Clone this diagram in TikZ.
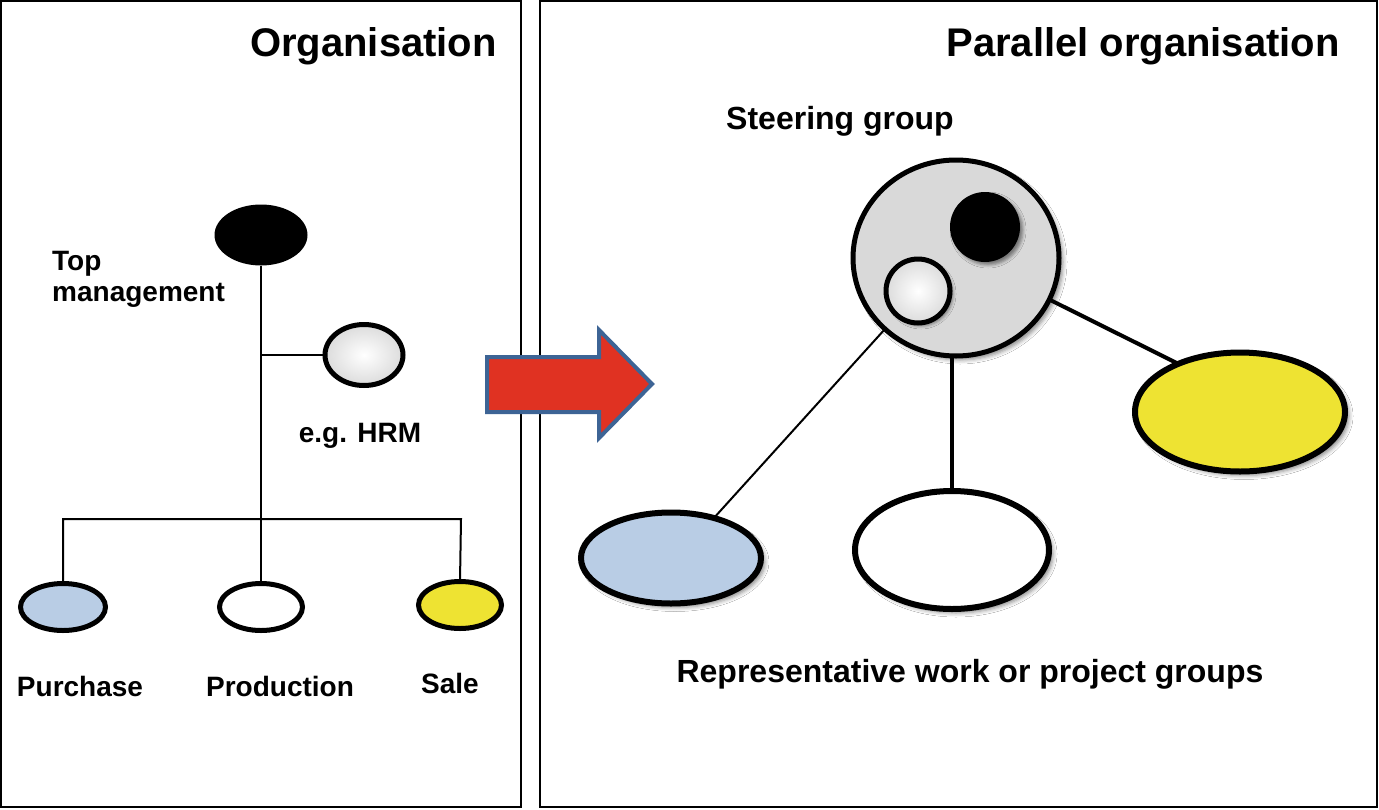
\documentclass[tikz,border=0pt]{standalone}
\usepackage{fontspec}
\setmainfont{Liberation Sans}
\usetikzlibrary{shapes.geometric,shadows.blur}
\definecolor{pblue}{HTML}{B9CDE5}
\definecolor{pyellow}{HTML}{EEE332}
\definecolor{pgrey}{HTML}{D9D9D9}
\definecolor{ared}{HTML}{E03222}
\definecolor{ablue}{HTML}{3D6495}
\begin{document}
\begin{tikzpicture}[x=1pt,y=-1pt,
  panel/.style={draw=black, line width=2pt},
  ell/.style={ellipse, inner sep=0pt, outer sep=0pt, draw=black},
  smallell/.style={ell, line width=5pt},
  bigell/.style={ell, line width=6pt, blur shadow={shadow xshift=4pt, shadow yshift=-4pt, shadow blur radius=4pt, shadow opacity=45}},
  marble/.style={inner color=white, outer color=gray!28},
  treeline/.style={line width=2pt, draw=black},
  thinline/.style={line width=2pt, draw=black},
  thickline/.style={line width=4pt, draw=black},
  titletxt/.style={font=\fontsize{40}{46}\selectfont\bfseries, inner sep=0pt},
  midtxt/.style={font=\fontsize{32}{38}\selectfont\bfseries, inner sep=0pt},
  lbltxt/.style={font=\fontsize{28}{32}\selectfont\bfseries, inner sep=0pt},
]
\useasboundingbox (0,0) rectangle (1379,809);
\fill[white] (0,0) rectangle (1379,809);

% panels
\draw[panel] (1,1) rectangle (521,807);
\draw[panel] (540,1) rectangle (1377,807);

% titles
\node[titletxt, anchor=base east] (t1) at (497,56) {Organisation};
\node[titletxt, anchor=base east] (t2) at (1340,56) {Parallel organisation};

% left tree
\node[ell, draw=none, fill=black, minimum width=93pt, minimum height=61pt] (top) at (261,235) {};
\node[smallell, marble, minimum width=78pt, minimum height=61pt] (hrm) at (364,355) {};
\node[smallell, fill=pblue, minimum width=85pt, minimum height=47pt] (purchase) at (63,607) {};
\node[smallell, fill=white, minimum width=83pt, minimum height=47pt] (production) at (261,607) {};
\node[smallell, fill=pyellow, minimum width=83pt, minimum height=47pt] (sale) at (460,605) {};

\coordinate (jh) at (261,355);
\coordinate (busR) at (461,519);
\draw[treeline] (top) -- (production);
\draw[treeline] (jh) -- (hrm);
\draw[treeline] (purchase.north) |- (busR) -- (sale.north);

\node[lbltxt, anchor=base west] (tm1) at (52,270) {Top};
\node[lbltxt, anchor=base west] (tm2) at (52,301) {management};
\node[lbltxt, anchor=base] (lhrm) at (360,442) {e.g. HRM};
\node[lbltxt, anchor=base] (lpur) at (80,696) {Purchase};
\node[lbltxt, anchor=base] (lpro) at (280,696) {Production};
\node[lbltxt, anchor=base] (lsal) at (450,693) {Sale};

% arrow
\draw[line width=4pt, draw=ablue, fill=ared, line join=miter]
  (487,357) -- (599,357) -- (599,330) -- (652,384) -- (599,438) -- (599,412) -- (487,412) -- cycle;

% right side
\node[midtxt, anchor=base] (sg) at (840,129) {Steering group};
\node[bigell, line width=5pt, fill=pgrey, minimum width=206pt, minimum height=196pt] (steer) at (956,258) {};
\node[ell, draw=none, fill=black, minimum width=70pt, minimum height=70pt, blur shadow={shadow xshift=3pt, shadow yshift=-3pt, shadow blur radius=3pt, shadow opacity=45}] (blackc) at (985,227) {};
\node[ell, line width=5pt, marble, minimum width=64pt, minimum height=64pt, blur shadow={shadow xshift=3pt, shadow yshift=-3pt, shadow blur radius=3pt, shadow opacity=45}] (marblec) at (918,291) {};

\node[bigell, fill=pblue, minimum width=180pt, minimum height=91pt] (blue) at (671,558) {};
\node[bigell, fill=white, minimum width=194pt, minimum height=118pt] (whitee) at (952,550) {};
\node[bigell, fill=pyellow, minimum width=210pt, minimum height=119pt] (yellow) at (1240,412) {};

\draw[thinline] (steer.-135) -- (blue.43);
\draw[thickline] (whitee.north) -- (whitee.north |- steer.south);
\draw[thickline] (steer.-24) -- (yellow.142);

\node[midtxt, anchor=base] (rep) at (970,682) {Representative work or project groups};
\end{tikzpicture}
\end{document}
